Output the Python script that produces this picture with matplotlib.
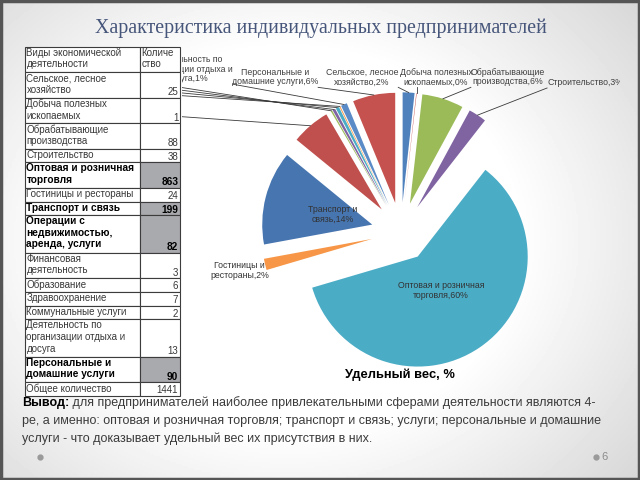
import textwrap
import numpy as np
import matplotlib
matplotlib.use('Agg')
import matplotlib.pyplot as plt
from matplotlib.patches import Rectangle

# --- данные слайда ---
title = 'Характеристика индивидуальных предпринимателей'
header = ['Виды экономической деятельности', 'Количе\nство']
activities = ['Сельское, лесное хозяйство', 'Добыча полезных ископаемых',
              'Обрабатывающие производства', 'Строительство',
              'Оптовая и розничная торговля', 'Гостиницы и рестораны',
              'Транспорт и связь', 'Операции с недвижимостью, аренда, услуги',
              'Финансовая деятельность', 'Образование', 'Здравоохранение',
              'Коммунальные услуги', 'Деятельность по организации отдыха и досуга',
              'Персональные и домашние услуги']
counts = [25, 1, 88, 38, 863, 24, 199, 82, 3, 6, 7, 2, 13, 90]
total_label = 'Общее количество'
chart_title = 'Удельный вес, %'
conclusion = ['для предпринимателей наиболее привлекательными сферами деятельности являются 4-',
              'ре, а именно: оптовая и розничная торговля; транспорт и связь; услуги; персональные и домашние',
              'услуги - что доказывает удельный вес их присутствия в них.']

# --- оформление ---
highlight = {4, 6, 7, 13}          # жирные строки с серой ячейкой
pie_colors = ['#4F81BD', '#C0504D', '#9BBB59', '#8064A2', '#4BACC6', '#F79646',
              '#4775B0', '#C0504D', '#9BBB59', '#8064A2', '#4BACC6', '#F79646',
              '#5B8BC6', '#C5524E']
inside = {4: 0.375, 6: 0.375}       # подписи внутри секторов
outside_far = {5: 1.24}            # подпись рядом с сектором, без выноски
# подписи с выносками: центр подписи в пикселях слайда
callouts = {12: (188, 69), 13: (275, 77), 0: (362, 77), 1: (436, 77),
            2: (508, 77), 3: (585, 82.5)}
# подписи, закрытые таблицей: видны только выноски
hidden = {8: (172, 86), 9: (172, 89), 10: (172, 92), 11: (172, 95), 7: (172, 116)}

FONT = 'Liberation Sans'
W, H = 640, 480
CX, CY, R = 401, 232, 110   # центр и радиус круговой диаграммы в пикселях

fig = plt.figure(figsize=(6.4, 4.8), dpi=100)

# фон слайда
ax_bg = fig.add_axes([0, 0, 1, 1])
ax_bg.set_xlim(0, W)
ax_bg.set_ylim(H, 0)
ax_bg.axis('off')
gy, gx = np.mgrid[0:1:240j, 0:1:320j]
rr = np.hypot(gx - 0.45, (gy - 0.5) * 0.9)
shade = 1 - 0.45 * np.clip(rr - 0.36, 0, None)
ax_bg.imshow(shade, cmap='gray', vmin=0, vmax=1, extent=(0, W, H, 0), aspect='auto')
ax_bg.add_patch(Rectangle((1, 1), W - 2, H - 2, fill=False, ec='#555555', lw=2.5))

# круговая диаграмма
left, right, top, bottom = 182, 620, 45, 390
ax_pie = fig.add_axes([left / W, (H - bottom) / H, (right - left) / W, (bottom - top) / H])
pcts = [round(c / sum(counts) * 100) for c in counts]
wedges, _ = ax_pie.pie(counts, colors=pie_colors, startangle=90, counterclock=False,
                       explode=[0.27] * len(counts), radius=1,
                       wedgeprops=dict(linewidth=0))
ax_pie.set_aspect('auto')
ax_pie.set_xlim((left - CX) / R, (right - CX) / R)
ax_pie.set_ylim((CY - bottom) / R, (CY - top) / R)
ax_pie.axis('off')


def to_px(pt):
    return ax_bg.transData.inverted().transform(ax_pie.transData.transform(pt))


def outer_px(w):
    ang = np.deg2rad((w.theta1 + w.theta2) / 2)
    return to_px(np.array(w.center) + w.r * np.array([np.cos(ang), np.sin(ang)]))


labels = [textwrap.fill(f'{a},{p}%', 20) for a, p in zip(activities, pcts)]
texts = {}
for i, w in enumerate(wedges):
    ang = np.deg2rad((w.theta1 + w.theta2) / 2)
    u = np.array([np.cos(ang), np.sin(ang)])
    c = np.array(w.center)
    if i in inside or i in outside_far:
        d = inside.get(i, outside_far.get(i))
        x, y = c + d * u
        ax_pie.text(x, y, labels[i], ha='center', va='center', fontsize=6.3,
                    family=FONT, color='#333333', linespacing=1.1)
    elif i in callouts:
        x, y = callouts[i]
        texts[i] = ax_pie.text(x, y, labels[i], ha='center', va='center', fontsize=6.3,
                               family=FONT, color='#404040', linespacing=1.1,
                               transform=ax_bg.transData, clip_on=True)

fig.canvas.draw()
inv = ax_bg.transData.inverted()
for i, t in texts.items():
    end = outer_px(wedges[i])
    bb = t.get_window_extent()
    (x0, y1), (x1, y0) = inv.transform([[bb.x0, bb.y0], [bb.x1, bb.y1]])
    start = (np.clip(end[0], x0, x1), y1 + 1)
    ax_pie.plot([start[0], end[0]], [start[1], end[1]], color='#3A3A3A', lw=0.6,
                transform=ax_bg.transData)
for i, start in hidden.items():
    end = outer_px(wedges[i])
    ax_pie.plot([start[0], end[0]], [start[1], end[1]], color='#3A3A3A', lw=0.6,
                transform=ax_bg.transData)

# таблица и тексты поверх
ax = fig.add_axes([0, 0, 1, 1])
ax.set_xlim(0, W)
ax.set_ylim(H, 0)
ax.axis('off')
ax.patch.set_alpha(0)

ax.text(321, 28, title, ha='center', va='center', fontsize=14.3,
        family='Liberation Serif', color='#46557A')

x_l, x_m, x_r = 25, 140, 179.5
line_h, pad = 11.75, 2.0
rows = [(textwrap.fill(header[0], 21), header[1], False)]
rows += [(textwrap.fill(a, 21), str(c), i in highlight) for i, (a, c) in enumerate(zip(activities, counts))]
rows += [(total_label, str(sum(counts)), False)]
y = 46.7
for r_i, (name, val, bold) in enumerate(rows):
    n = max(name.count('\n'), val.count('\n')) + 1
    h = n * line_h + pad
    ax.add_patch(Rectangle((x_l, y), x_m - x_l, h, fc='white', ec='#3C3C3C', lw=0.8))
    ax.add_patch(Rectangle((x_m, y), x_r - x_m, h, fc='#A9AAAE' if bold else 'white',
                           ec='#3C3C3C', lw=0.8))
    kw = dict(family=FONT, fontsize=7.3 if bold else 7,
              fontweight='bold' if bold else 'normal',
              color='black' if bold else '#383838', linespacing=1.16 if bold else 1.2)
    ax.text(x_l + 1.5, y + 1.0, name, ha='left', va='top', **kw)
    if r_i == 0:
        ax.text(x_m + 1.5, y + 1.0, val, ha='left', va='top', **kw)
    else:
        ax.text(x_r - 1.2, y + h - 2.6, val, ha='right', va='baseline', **kw)
    y += h

ax.text(400, 375, chart_title, ha='center', va='center', fontsize=9.3,
        fontweight='bold', family=FONT, color='black')

lead = ax.text(22, 403, 'Вывод:', ha='left', va='center', fontsize=9.0,
               fontweight='bold', family=FONT, color='black')
ax.annotate(' ' + conclusion[0], xy=(1, 0.5), xycoords=lead, ha='left', va='center',
            fontsize=9.0, family=FONT, color='#3B3B3B')
for k, line in enumerate(conclusion[1:], start=1):
    ax.text(22, 403 + 18 * k, line, ha='left', va='center', fontsize=9.0,
            family=FONT, color='#3B3B3B')

ax.plot([40, 596], [457, 457], 'o', ls='none', color='#9A9A9A', ms=3.5)
ax.text(601, 457, '6', ha='left', va='center', fontsize=8, family=FONT, color='#8C8C8C')

fig.savefig('out.png', dpi=100)
